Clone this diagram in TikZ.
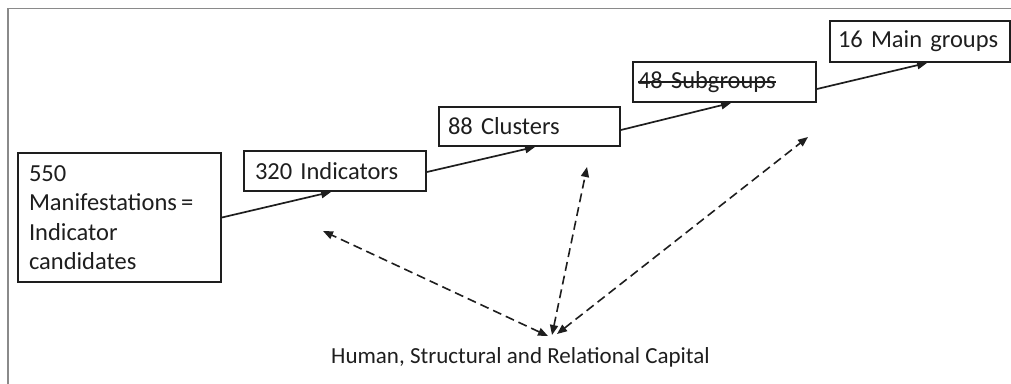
\documentclass[tikz,border=0pt]{standalone}
\usepackage{fontspec}
\setmainfont{Carlito}
\newcommand{\mystrike}[1]{\setbox0\hbox{#1}\rlap{\raisebox{0.24em}{\rule{\wd0}{1.5pt}}}\box0}
\usetikzlibrary{arrows.meta,calc}
\definecolor{ink}{HTML}{1E1E1E}
\definecolor{framec}{HTML}{8A8A8A}
\tikzset{
  stepbox/.style={draw=ink, line width=1.8pt, rectangle, inner xsep=0pt, inner ysep=0pt, align=left,
    font=\fontsize{24.5}{29.5}\selectfont, text=ink},
  flow/.style={draw=ink, line width=1.7pt, -{Triangle[length=10pt,width=8pt]}},
  link/.style={draw=ink, line width=1.6pt, dash pattern=on 9pt off 5pt,
    {Triangle[length=10pt,width=8pt]}-{Triangle[length=10pt,width=8pt]}}
}
\begin{document}
\begin{tikzpicture}[x=1pt,y=-1pt]
\useasboundingbox (0,0) rectangle (1011,383);
% outer frame
\draw[framec, line width=1.6pt] (8,384) -- (8,8.5) -- (1012,8.5);
% boxes
\node[stepbox, minimum width=203pt, minimum height=129pt, text width=181pt] (b1) at (119.5,217.5)
  {550\\Manifestations\,=\\Indicator\\candidates};
\node[stepbox, minimum width=182pt, minimum height=40pt, text width=160pt] (b2) at (335,171) {320 Indicators};
\node[stepbox, minimum width=181pt, minimum height=39pt, text width=163pt] (b3) at (529.5,126.5) {88 Clusters};
\node[stepbox, minimum width=183pt, minimum height=40pt, text width=173pt] (b4) at (724.5,82) {\mystrike{48 Subgroups}};
\node[stepbox, minimum width=180pt, minimum height=41pt, text width=164pt] (b5) at (920,41.5) {16 Main groups};
% label
\node[font=\fontsize{23}{27}\selectfont, text=ink, inner sep=0pt] (cap) at (520.5,357) {Human, Structural and Relational Capital};
% flow arrows
\draw[flow] (b1.east) -- ($(b2.south west)+(88,0)$);
\draw[flow] ($(b2.east)+(0,1)$) -- ($(b3.south west)+(97,0)$);
\draw[flow] ($(b3.east)+(0,3.5)$) -- ($(b4.south west)+(99,0)$);
\draw[flow] ($(b4.east)+(0,7)$) -- ($(b5.south west)+(98,0)$);
% dashed links
\coordinate (p1) at (323,231);
\coordinate (p2) at (587,167);
\coordinate (p3) at (808,137);
\coordinate (q1) at (548,336);
\coordinate (q2) at (552,335);
\coordinate (q3) at (557,334);
\draw[link] (q1) -- (p1);
\draw[link] (q2) -- (p2);
\draw[link] (q3) -- (p3);
\end{tikzpicture}
\end{document}
